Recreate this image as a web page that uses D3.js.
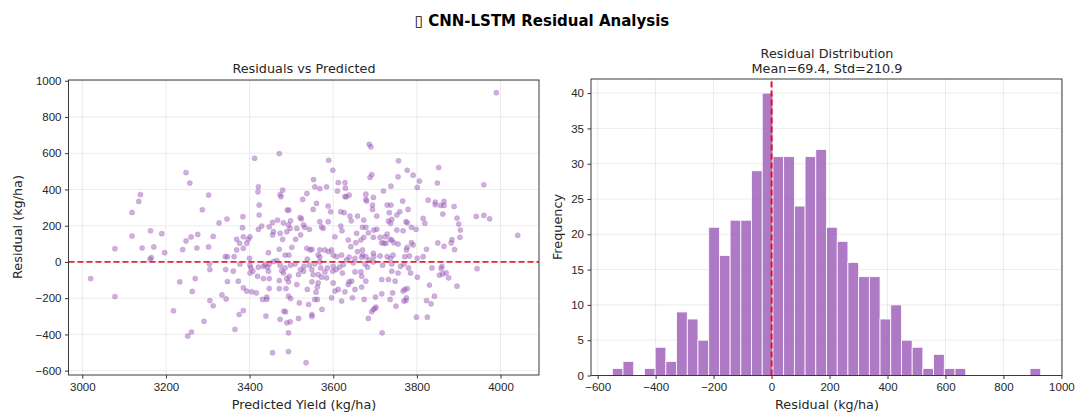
<!DOCTYPE html>
<html>
<head>
<meta charset="utf-8">
<script src="https://cdn.jsdelivr.net/npm/d3@7"></script>
<style>
    body { margin: 0; background: #fff; }
    svg { display: block; font-family: "DejaVu Sans", sans-serif; }
    .tick text { font-size: 11.5px; fill: #262626; }
    .tick line { stroke: #333; }
    .domain { display: none; }
</style>
</head>
<body>
<svg id="chart" width="1075" height="412"></svg>
<script>
// scatter: [predicted yield, residual]
var scatterPoints = [
    [3020,-92],[3078,-191],[3078,73],[3119,273],[3135,334],[3139,372],[3119,143],[3143,77],
    [3163,172],[3171,83],[3165,24],[3162,15],[3190,156],[3197,51],[3248,493],[3257,435],
    [3302,369],[3287,288],[3327,215],[3346,237],[3240,68],[3248,116],[3260,138],[3276,152],
    [3274,77],[3302,83],[3313,141],[3304,-11],[3305,-42],[3342,29],[3347,29],[3343,-42],
    [3347,-108],[3344,-204],[3334,-182],[3233,-110],[3270,-92],[3263,-163],[3305,-213],
    [3313,-242],[3218,-270],[3291,-328],[3261,-387],[3252,-409],
    // 3350 - 3590, upper half
    [3412,572],[3471,598],[3589,561],[3421,415],[3420,387],[3473,372],[3475,360],[3479,396],
    [3553,455],[3556,415],[3568,405],[3584,415],[3537,378],[3527,345],[3560,323],[3552,290],
    [3588,308],[3423,314],[3490,286],[3494,286],[3423,259],[3384,250],[3383,189],[3455,218],
    [3467,231],[3447,194],[3429,198],[3421,180],[3481,216],[3498,227],[3493,204],[3521,244],
    [3524,238],[3529,204],[3532,191],[3513,185],[3497,185],[3568,222],[3572,194],[3576,185],
    [3588,222],[3455,149],[3457,167],[3473,158],[3479,125],[3489,167],[3510,125],[3522,149],
    [3543,180],[3401,139],[3397,125],[3385,139],[3369,125],[3376,103],[3393,103],[3369,66],
    [3385,75],[3363,29],[3400,20],[3445,51],[3471,70],[3485,38],[3494,38],[3501,81],
    [3537,75],[3545,66],[3549,70],[3568,66],[3580,66],[3564,38],[3568,26],[3538,15],
    [3457,2],[3589,57],
    // 3590 - 3830, upper half
    [3686,649],[3690,635],[3756,558],[3692,482],[3688,466],[3777,506],[3791,479],[3755,470],
    [3806,446],[3801,411],[3738,418],[3720,391],[3599,506],[3612,438],[3628,438],[3610,391],
    [3629,407],[3638,369],[3631,360],[3628,360],[3678,374],[3678,345],[3680,336],[3696,356],
    [3694,314],[3694,290],[3729,314],[3738,314],[3766,336],[3827,341],[3752,259],[3759,277],
    [3779,290],[3734,272],[3618,277],[3626,272],[3594,277],[3640,253],[3658,253],[3643,227],
    [3673,231],[3704,253],[3732,226],[3737,213],[3740,235],[3774,222],[3777,216],[3815,240],
    [3819,213],[3798,180],[3787,191],[3752,176],[3767,172],[3618,198],[3621,172],[3604,139],
    [3636,121],[3656,158],[3670,191],[3678,191],[3684,161],[3697,176],[3704,180],[3673,136],
    [3666,121],[3654,106],[3642,84],[3696,136],[3712,136],[3724,139],[3729,154],[3736,125],
    [3740,121],[3745,106],[3726,103],[3721,103],[3716,106],[3755,99],[3787,106],[3791,94],
    [3777,81],[3775,66],[3823,70],[3596,66],[3600,38],[3608,29],[3620,38],[3638,26],
    [3652,20],[3658,57],[3670,66],[3670,38],[3678,29],[3696,48],[3697,29],[3712,33],
    [3729,29],[3737,20],[3743,38],[3771,29],[3782,33],[3801,20],[3815,29],[3668,26],
    [3686,11],[3632,11],
    // 3350 - 3590, lower half
    [3361,-51],[3373,-106],[3385,-143],[3393,-161],[3405,-165],[3416,-171],[3403,-33],[3408,-51],
    [3401,-61],[3421,-29],[3419,-79],[3433,-92],[3447,-92],[3445,-51],[3443,-29],[3437,-15],
    [3447,-147],[3441,-194],[3431,-207],[3441,-207],[3385,-268],[3375,-290],[3365,-372],[3439,-299],
    [3455,-501],[3493,-495],[3535,-556],[3493,-391],[3473,-317],[3482,-272],[3486,-275],[3489,-336],
    [3497,-330],[3517,-312],[3519,-226],[3493,-189],[3498,-202],[3487,-147],[3471,-147],[3471,-103],
    [3489,-92],[3493,-110],[3495,-79],[3481,-61],[3477,-48],[3485,-33],[3513,-125],[3538,-152],
    [3549,-110],[3564,-116],[3572,-84],[3559,-167],[3556,-207],[3562,-207],[3573,-262],[3549,-290],
    [3549,-301],[3529,-51],[3522,-42],[3530,-24],[3517,-70],[3549,-42],[3552,-70],[3564,-70],
    [3570,-33],[3580,-55],[3584,-88],[3586,-33],[3568,0],[3556,-11],[3543,-18],[3509,-11],
    [3498,-18],[3473,-18],[3465,7],[3447,-11],[3433,-24],[3401,-18],[3377,-11],[3541,-235],
    [3562,-139],
    // 3590 - 3830, lower half
    [3600,-24],[3607,-42],[3615,-29],[3622,-61],[3624,-15],[3599,-51],[3600,-116],[3612,-152],
    [3604,-161],[3596,-198],[3620,-216],[3628,-165],[3636,-125],[3638,-110],[3644,-106],[3646,-198],
    [3652,-55],[3652,-152],[3666,-55],[3668,-79],[3668,-139],[3674,-207],[3678,-106],[3682,-29],
    [3676,-11],[3684,-312],[3692,-275],[3696,-262],[3700,-257],[3702,-249],[3701,-194],[3716,-176],
    [3716,-97],[3718,-18],[3732,-97],[3740,-51],[3742,-171],[3736,-207],[3748,-106],[3750,-244],
    [3755,-61],[3761,-24],[3767,-161],[3769,-216],[3774,-213],[3775,-198],[3777,-147],[3771,-152],
    [3769,-11],[3780,-33],[3785,-61],[3801,-84],[3799,-305],[3825,-305],[3823,-213],[3717,-391],
    [3740,-11],[3696,0],[3648,-5],
    // right edge
    [3990,934],[3852,521],[3849,435],[3960,426],[3844,330],[3844,316],[3857,312],[3865,334],
    [3865,312],[3862,264],[3889,306],[3896,242],[3900,209],[3904,176],[3903,136],[3942,251],
    [3960,257],[3974,238],[3884,123],[3882,105],[3865,86],[3850,105],[3890,68],[4041,147],
    [3944,-37],[3860,-24],[3858,-37],[3854,-73],[3862,-66],[3870,-60],[3876,-88],[3896,-134],
    [3836,-33],[3830,-128],[3842,-189],[3834,-231]
];

// histogram: 40 equal bins between the residual min and max
var binMin = -549.5;
var binMax = 928.5;
var histCounts = [1,2,0,1,4,2,9,8,5,21,17,22,22,29,40,31,31,24,31,32,
                  21,19,16,14,14,8,10,5,4,1,3,1,1,0,0,0,0,0,0,1];

var scatterXTicks = [3000, 3200, 3400, 3600, 3800, 4000];
var scatterYTicks = [-600, -400, -200, 0, 200, 400, 600, 800, 1000];
var histXTicks = [-600, -400, -200, 0, 200, 400, 600, 800, 1000];
var histYTicks = [0, 5, 10, 15, 20, 25, 30, 35, 40];

var purple = "#9b59b6";
var svg = d3.select("#chart");

function frame(g, x, y) {
    var r = x.range(), t = y.range();
    g.append("rect")
        .attr("x", r[0]).attr("y", t[1])
        .attr("width", r[1] - r[0]).attr("height", t[0] - t[1])
        .attr("fill", "none").attr("stroke", "#3a3a3a").attr("stroke-width", 1);
}

function axes(g, x, y, xt, yt, fmt) {
    var r = x.range(), t = y.range();
    // grid
    g.append("g").selectAll("line.gx").data(xt).enter().append("line")
        .attr("x1", function(d) {return x(d);}).attr("x2", function(d) {return x(d);})
        .attr("y1", t[0]).attr("y2", t[1])
        .attr("stroke", "#b0b0b0").attr("stroke-opacity", 0.3).attr("stroke-width", 0.8);
    g.append("g").selectAll("line.gy").data(yt).enter().append("line")
        .attr("y1", function(d) {return y(d);}).attr("y2", function(d) {return y(d);})
        .attr("x1", r[0]).attr("x2", r[1])
        .attr("stroke", "#b0b0b0").attr("stroke-opacity", 0.3).attr("stroke-width", 0.8);

    g.append("g").attr("transform", "translate(0," + t[0] + ")")
        .call(d3.axisBottom(x).tickValues(xt).tickSize(3.5).tickPadding(4).tickFormat(fmt));
    g.append("g").attr("transform", "translate(" + r[0] + ",0)")
        .call(d3.axisLeft(y).tickValues(yt).tickSize(3.5).tickPadding(3.5).tickFormat(fmt));
}

var fmt = function(d) { return d < 0 ? "\u2212" + Math.abs(d) : String(d); };

// Residuals vs Predicted
var sx = d3.scaleLinear().domain([2967, 4092]).range([68.5, 539]);
var sy = d3.scaleLinear().domain([-624, 1004]).range([375, 80]);
var left = svg.append("g");
axes(left, sx, sy, scatterXTicks, scatterYTicks, fmt);

left.append("g").selectAll("circle")
    .data(scatterPoints)
    .enter()
    .append("circle")
    .attr("cx", function(d) {return sx(d[0]);})
    .attr("cy", function(d) {return sy(d[1]);})
    .attr("r", 2.6)
    .attr("fill", purple)
    .attr("fill-opacity", 0.48)
    .attr("stroke", purple)
    .attr("stroke-opacity", 0.35)
    .attr("stroke-width", 0.6);

left.append("line")
    .attr("x1", sx.range()[0]).attr("x2", sx.range()[1])
    .attr("y1", sy(0)).attr("y2", sy(0))
    .attr("stroke", "#e3262b").attr("stroke-width", 1.8)
    .attr("stroke-dasharray", "6,3");
frame(left, sx, sy);

// Residual Distribution
var hx = d3.scaleLinear().domain([-623, 1002]).range([591, 1062]);
var hy = d3.scaleLinear().domain([0, 42]).range([375.5, 79]);
var binW = (binMax - binMin) / histCounts.length;
var bins = histCounts.map(function(c, i) {
    return {x0: binMin + i * binW, x1: binMin + (i + 1) * binW, n: c};
});
var right = svg.append("g");
axes(right, hx, hy, histXTicks, histYTicks, fmt);

right.append("g").selectAll("rect")
    .data(bins.filter(function(b) { return b.n > 0; }))
    .enter()
    .append("rect")
    .attr("x", function(d) {return hx(d.x0);})
    .attr("width", function(d) {return hx(d.x1) - hx(d.x0);})
    .attr("y", function(d) {return hy(d.n);})
    .attr("height", function(d) {return hy(0) - hy(d.n);})
    .attr("fill", purple)
    .attr("fill-opacity", 0.8)
    .attr("stroke", "#fff")
    .attr("stroke-width", 0.8);

right.append("line")
    .attr("x1", hx(0)).attr("x2", hx(0))
    .attr("y1", hy.range()[0]).attr("y2", hy.range()[1])
    .attr("stroke", "#e3102a").attr("stroke-width", 2)
    .attr("stroke-dasharray", "6,3");
frame(right, hx, hy);

// texts
function label(x, y, txt, size, opts) {
    opts = opts || {};
    var t = svg.append("text")
        .attr("x", x).attr("y", y)
        .attr("text-anchor", "middle")
        .attr("font-size", size)
        .attr("fill", opts.fill || "#262626")
        .attr("font-weight", opts.bold ? "bold" : "normal")
        .text(txt);
    if (opts.rotate) {
        t.attr("transform", "rotate(-90," + x + "," + y + ")")
            .attr("dominant-baseline", "central");
    }
    return t;
}

label(542, 26, "\u25AF CNN-LSTM Residual Analysis", 15, {bold: true, fill: "#000"});
label(304, 73, "Residuals vs Predicted", 12.8);
label(827, 57.5, "Residual Distribution", 12.8);
label(827, 72.5, "Mean=69.4, Std=210.9", 12.8);
label(304, 409, "Predicted Yield (kg/ha)", 12.8);
label(827, 409, "Residual (kg/ha)", 12.8);
label(17, 227, "Residual (kg/ha)", 12.8, {rotate: true});
label(557, 227, "Frequency", 12.8, {rotate: true});
</script>
</body>
</html>
